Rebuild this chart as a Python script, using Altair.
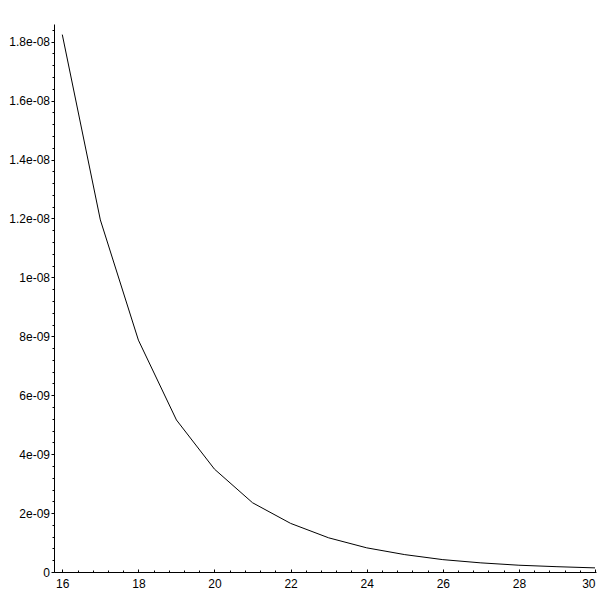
import altair as alt
import pandas as pd

# data
x_vals = [16, 17, 18, 19, 20, 21, 22, 23, 24, 25, 26, 27, 28, 29, 30]
y_vals = [18.24e-9, 11.95e-9, 7.87e-9, 5.16e-9, 3.49e-9, 2.35e-9, 1.65e-9,
          1.16e-9, 0.82e-9, 0.59e-9, 0.42e-9, 0.31e-9, 0.23e-9, 0.18e-9, 0.14e-9]

x_major = [16, 18, 20, 22, 24, 26, 28, 30]
x_minor = [round(16 + 0.4 * i, 1) for i in range(36)]
y_major = [0, 2e-9, 4e-9, 6e-9, 8e-9, 1e-8, 1.2e-8, 1.4e-8, 1.6e-8, 1.8e-8]
y_labels = ["0", "2e-09", "4e-09", "6e-09", "8e-09", "1e-08",
            "1.2e-08", "1.4e-08", "1.6e-08", "1.8e-08"]
y_minor = [round(0.4e-9 * i, 12) for i in range(47)]

df = pd.DataFrame({"x": x_vals, "y": y_vals})

FONT = "Liberation Sans"
FS = 12
XDOM = [15.782, 30.026]
YDOM = [0, 1.86e-8]

ylab_expr = "[" + ",".join("'%s'" % s for s in y_labels) + "][round(datum.value/2e-9)]"

base = alt.Chart(df)

line = base.mark_line(color="black", strokeWidth=1).encode(
    x=alt.X("x:Q", scale=alt.Scale(domain=XDOM, nice=False, zero=False),
            axis=alt.Axis(orient="bottom", values=x_major, format="d", ticks=False, tickSize=0,
                          labelPadding=6, labelFont=FONT, labelFontSize=FS, labelColor="black",
                          domainColor="black", domainWidth=1, grid=False, title=None)),
    y=alt.Y("y:Q", scale=alt.Scale(domain=YDOM, nice=False, zero=False),
            axis=alt.Axis(orient="left", values=y_major, labelExpr=ylab_expr, tickSize=3,
                          tickColor="black", tickWidth=1, labelPadding=1.5, labelFont=FONT,
                          labelFontSize=FS, labelColor="black", domainColor="black",
                          domainWidth=1, grid=False, title=None)),
)

minor = base.mark_point(opacity=0).encode(
    x=alt.X("x:Q", scale=alt.Scale(domain=XDOM, nice=False, zero=False),
            axis=alt.Axis(orient="bottom", values=x_minor, offset=-2, tickSize=2,
                          tickColor="black", labels=False, domain=False, grid=False, title=None)),
    y=alt.Y("y:Q", scale=alt.Scale(domain=YDOM, nice=False, zero=False),
            axis=alt.Axis(orient="left", values=y_minor, tickSize=2, tickColor="black",
                          labels=False, domain=False, grid=False, title=None)),
)

major_in = base.mark_point(opacity=0).encode(
    x=alt.X("x:Q", scale=alt.Scale(domain=XDOM, nice=False, zero=False),
            axis=alt.Axis(orient="bottom", values=x_major, offset=-3, tickSize=3,
                          tickColor="black", labels=False, domain=False, grid=False, title=None)),
    y=alt.Y("y:Q", scale=alt.Scale(domain=YDOM, nice=False, zero=False), axis=None),
)

chart = alt.layer(line, minor, major_in).resolve_scale(
    x="independent", y="independent"
).properties(
    width=542, height=548,
    autosize=alt.AutoSizeParams(type="none"),
    padding={"left": 46, "top": 16, "right": 7, "bottom": 25},
    background="white",
).configure_view(stroke=None)

chart.save("out.html", embed_options={"renderer": "svg", "actions": False})
